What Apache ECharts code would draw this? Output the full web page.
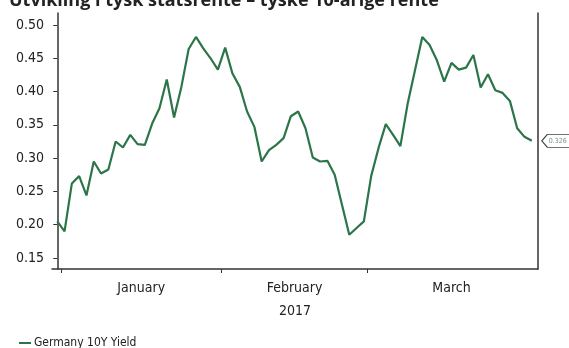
<!DOCTYPE html>
<html>
<head>
<meta charset="utf-8">
<script src="https://cdn.jsdelivr.net/npm/echarts@6/dist/echarts.min.js"></script>
<style>
  html, body { margin: 0; padding: 0; background: #fff; }
  #chart { width: 569px; height: 348px; }
</style>
</head>
<body>
<div id="chart"></div>
<script>
// German 10Y government bond yield, daily closes 30 Dec 2016 – 31 Mar 2017 (%)
const yields = [
  0.205, 0.190, 0.262, 0.273, 0.244, 0.295, 0.277, 0.283, 0.325, 0.316,
  0.335, 0.321, 0.320, 0.352, 0.375, 0.418, 0.361, 0.407, 0.464, 0.482,
  0.465, 0.450, 0.433, 0.466, 0.427, 0.407, 0.370, 0.347, 0.295, 0.312,
  0.320, 0.330, 0.363, 0.370, 0.345, 0.301, 0.295, 0.296, 0.275, 0.230,
  0.185, 0.195, 0.205, 0.273, 0.315, 0.351, 0.335, 0.318, 0.382, 0.432,
  0.482, 0.470, 0.447, 0.415, 0.443, 0.433, 0.436, 0.455, 0.406, 0.426,
  0.402, 0.398, 0.386, 0.345, 0.332, 0.326
];
// Months shown on the time axis: name, session index of the month's middle, boundary before it
const monthNames = ['January', 'February', 'March'];
const monthMidIndex = [11.5, 32.5, 54];
const monthStartIndex = [0.5, 22.5, 42.5];
const yearLabel = '2017';
const yTicks = [0.15, 0.20, 0.25, 0.30, 0.35, 0.40, 0.45, 0.50];
const seriesName = 'Germany 10Y Yield';
const lastValueLabel = '0.326';

const narrow = "'DejaVu Sans Condensed', 'Liberation Sans Narrow', sans-serif";
const lineColor = '#2b7549';
const axisColor = '#333333';

const chart = echarts.init(document.getElementById('chart'), null, { renderer: 'canvas' });
const lastIdx = yields.length - 1;

chart.setOption({
  animation: false,
  backgroundColor: '#ffffff',
  title: {
    text: 'Utvikling i tysk statsrente – tyske 10-årige rente',
    left: 4,
    top: -13,
    textStyle: { fontFamily: "'Open Sans', sans-serif", fontWeight: 'bold', fontSize: 18, color: '#222' }
  },
  legend: {
    left: 14,
    top: 332,
    icon: 'rect',
    itemWidth: 12,
    itemHeight: 2,
    itemGap: 4,
    textStyle: { fontFamily: narrow, fontSize: 12, color: '#222', padding: [0, 0, 0, -2] },
    data: [seriesName]
  },
  grid: { left: 52, right: 31, top: 13, bottom: 79, containLabel: false },
  xAxis: {
    type: 'value',
    min: -0.72,
    max: 65.85,
    name: yearLabel,
    nameLocation: 'middle',
    nameGap: 35,
    nameTextStyle: { fontFamily: narrow, fontSize: 14, color: '#222' },
    axisLine: { show: true, lineStyle: { color: axisColor, width: 1.5 } },
    axisTick: { show: true, length: 4, customValues: monthStartIndex, lineStyle: { color: axisColor } },
    axisLabel: {
      customValues: monthMidIndex,
      margin: 12,
      fontFamily: narrow,
      fontSize: 14,
      color: '#222',
      formatter: function (v) {
        const i = monthMidIndex.indexOf(v);
        return i >= 0 ? monthNames[i] : '';
      }
    },
    splitLine: { show: false }
  },
  yAxis: [{
    type: 'value',
    min: 0.1335,
    max: 0.518,
    axisLine: { show: true, lineStyle: { color: axisColor, width: 1.5 } },
    axisTick: { show: true, length: 4, customValues: yTicks, lineStyle: { color: axisColor } },
    axisLabel: {
      customValues: yTicks,
      margin: 8,
      fontFamily: narrow,
      fontSize: 14,
      color: '#222',
      formatter: function (v) { return v.toFixed(2); }
    },
    splitLine: { show: false }
  }, {
    type: 'value',
    position: 'right',
    min: 0.1335,
    max: 0.518,
    axisLine: { show: true, lineStyle: { color: axisColor, width: 1.5 } },
    axisTick: { show: false },
    axisLabel: { show: false },
    splitLine: { show: false }
  }],
  series: [{
    name: seriesName,
    type: 'line',
    yAxisIndex: 0,
    data: yields.map(function (v, i) { return [i, v]; }),
    symbol: 'none',
    color: lineColor,
    lineStyle: { color: lineColor, width: 2.2 },
    clip: false,
    markPoint: {
      silent: true,
      symbol: 'path://M0,6 L6,0 L30,0 L30,12 L6,12 Z',
      symbolSize: [28, 13],
      symbolOffset: [24, 0],
      itemStyle: { color: '#ffffff', borderColor: '#444', borderWidth: 1 },
      label: {
        show: true,
        position: 'inside',
        formatter: lastValueLabel,
        fontSize: 7,
        color: '#7f9290',
        fontFamily: narrow,
        padding: [0, 0, 0, 4]
      },
      data: [{ coord: [lastIdx, yields[lastIdx]] }]
    }
  }]
});
</script>
</body>
</html>
